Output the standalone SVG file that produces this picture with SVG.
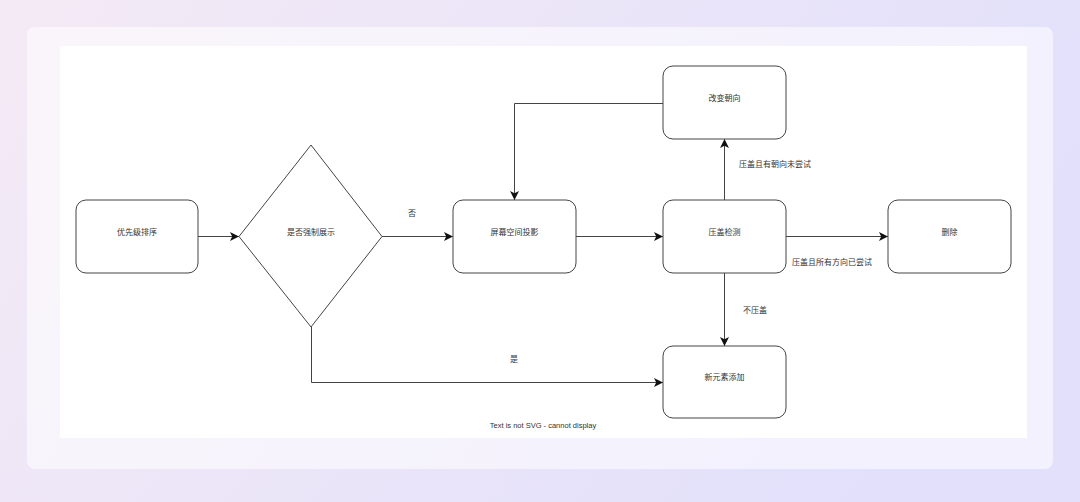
<svg xmlns="http://www.w3.org/2000/svg" width="1080" height="502" viewBox="0 0 1080 502">
<defs>
<linearGradient id="bg" x1="0" y1="0" x2="1" y2="0.3">
<stop offset="0" stop-color="#f4eaf5"/>
<stop offset="1" stop-color="#e2e0fb"/>
</linearGradient>
<marker id="arr" markerUnits="userSpaceOnUse" markerWidth="12" markerHeight="12" viewBox="0 0 12 12" refX="10" refY="6" orient="auto">
<path d="M1,1.5 L10,6 L1,10.5 L3.2,6 Z" fill="#111"/>
</marker>
<style>
.n{fill:#fff;stroke:#444;stroke-width:1}
.t{font-family:"Liberation Sans","Noto Sans CJK SC",sans-serif;font-size:8px;fill:#333;text-anchor:middle}
.l{font-family:"Liberation Sans","Noto Sans CJK SC",sans-serif;font-size:8px;fill:#333}
.c{fill:none;stroke:#444;stroke-width:1;marker-end:url(#arr)}
</style>
</defs>
<rect width="1080" height="502" fill="url(#bg)"/>
<rect x="27" y="27" width="1026" height="442" rx="8" fill="#ffffff" fill-opacity="0.55"/>
<rect x="60" y="46" width="967" height="392" fill="#ffffff"/>

<g id="connectors">
<path class="c" d="M198,236.5 H239"/>
<path class="c" d="M382,236.5 H453"/>
<path class="c" d="M576,236.5 H663"/>
<path class="c" d="M786,236.5 H888"/>
<path class="c" d="M724.5,200 V139"/>
<path class="c" d="M724.5,273 V346"/>
<path class="c" d="M663,103.5 H514.5 V200"/>
<path class="c" d="M311.5,327 V382.5 H663"/>
<text class="t" x="412" y="216">否</text>
<text class="t" x="514" y="362">是</text>
<text class="l" x="739" y="167">压盖且有朝向未尝试</text>
<text class="l" x="792" y="265">压盖且所有方向已尝试</text>
<text class="l" x="743" y="313">不压盖</text>
</g>

<g id="sort"><rect class="n" x="76" y="200" width="122" height="73" rx="10"/><text class="t" x="137" y="235">优先级排序</text></g>
<g id="force"><path class="n" d="M311,145 L382,236.5 L311,327 L239,236.5 Z"/><text class="t" x="311" y="235">是否强制展示</text></g>
<g id="project"><rect class="n" x="453" y="200" width="123" height="73" rx="10"/><text class="t" x="514.5" y="235">屏幕空间投影</text></g>
<g id="orient"><rect class="n" x="663" y="66" width="123" height="73" rx="10"/><text class="t" x="724.5" y="101">改变朝向</text></g>
<g id="check"><rect class="n" x="663" y="200" width="123" height="73" rx="10"/><text class="t" x="724.5" y="235">压盖检测</text></g>
<g id="delete"><rect class="n" x="888" y="200" width="123" height="73" rx="10"/><text class="t" x="949.5" y="235">删除</text></g>
<g id="add"><rect class="n" x="663" y="346" width="123" height="72" rx="10"/><text class="t" x="724.5" y="380">新元素添加</text></g>

<text class="t" x="543" y="428" style="font-size:7.5px">Text is not SVG - cannot display</text>
</svg>
